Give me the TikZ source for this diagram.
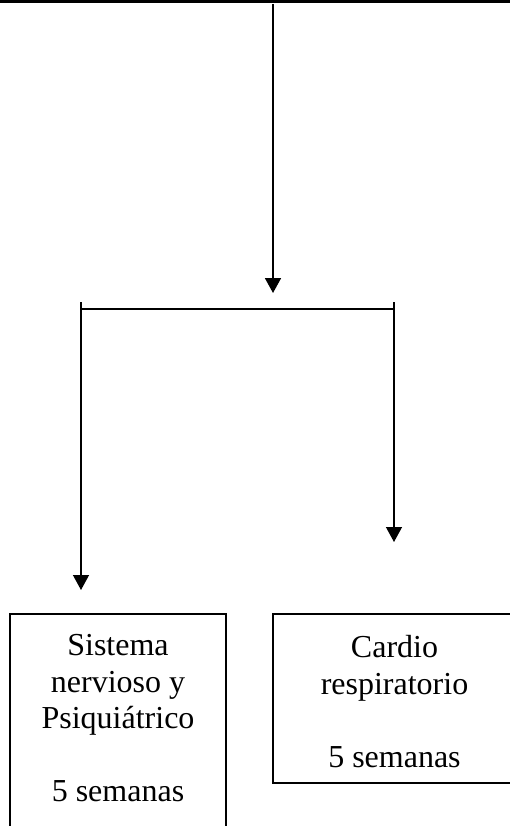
\documentclass[tikz,border=0pt]{standalone}
\usepackage{fontspec}
\setmainfont{Liberation Serif}
\usetikzlibrary{arrows.meta}
\begin{document}
\begin{tikzpicture}[x=1pt,y=-1pt,
  conn/.style={line width=1.3pt},
  arr/.style={conn,-{Triangle[length=15pt,width=16pt]}},
  box/.style={draw,line width=1.3pt,inner sep=0pt},
  boxtext/.style={align=center,inner sep=0pt,
    font=\fontsize{32}{36.5}\selectfont}]
\useasboundingbox (0,0) rectangle (510,826);
\clip (0,0) rectangle (510,826);
% top border
\coordinate (topL) at (0,1.3);
\coordinate (topR) at (510,1.3);
\coordinate (tickA) at (200,0);
\coordinate (tickAe) at (200,3.4);
\coordinate (tickB) at (441,0);
\coordinate (tickBe) at (441,3.4);
\draw[line width=2.6pt] (topL) -- (topR);
\draw[line width=1.2pt] (tickA) -- (tickAe);
\draw[line width=1.2pt] (tickB) -- (tickBe);
% main down arrow
\coordinate (src) at (273,4);
\coordinate (hub) at (273,293);
\draw[arr,line width=1.7pt] (src) -- (hub);
% branch bar
\coordinate (barL) at (81,302);
\coordinate (barR) at (394,302);
\coordinate (barLm) at (81,309);
\coordinate (barRm) at (394,309);
\draw[conn] (barLm) -- (barRm);
\coordinate (endL) at (81,590);
\coordinate (endR) at (394,542);
\draw[arr] (barL) -- (endL);
\draw[arr] (barR) -- (endR);
% boxes
\node[box,minimum width=216pt,minimum height=216pt] (left) at (118,722) {};
\node[boxtext] (lefttext) at (118,718.5)
  {Sistema\\nervioso y\\Psiqui\'atrico\\[36.5pt]5 semanas};
\node[box,minimum width=243pt,minimum height=169pt] (right) at (394.5,698.5) {};
\node[boxtext] (righttext) at (394.5,701.5)
  {Cardio\\respiratorio\\[36.5pt]5 semanas};
\end{tikzpicture}
\end{document}
